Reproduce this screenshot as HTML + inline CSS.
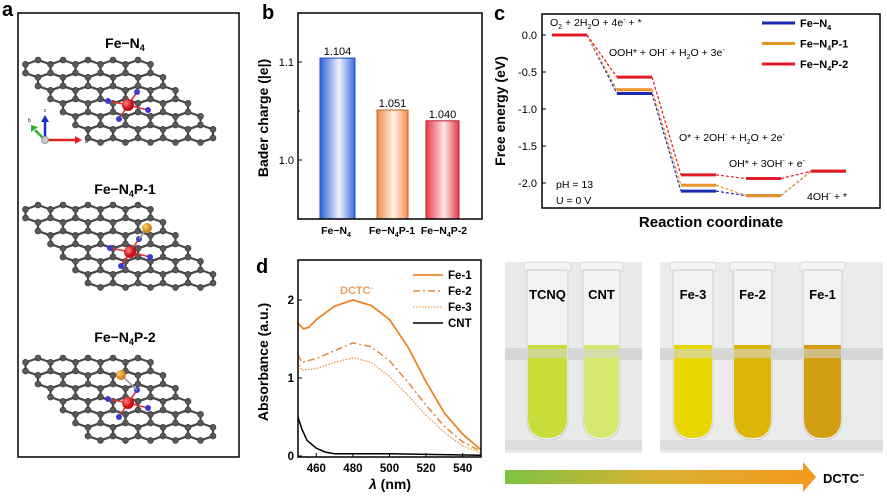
<!DOCTYPE html>
<html><head><meta charset="utf-8"><style>
body{margin:0;background:#fff;width:887px;height:497px;overflow:hidden;font-family:"Liberation Sans",Arial,sans-serif}
svg text{font-family:"Liberation Sans",Arial,sans-serif}
</style></head><body>
<svg id="fig" width="887" height="497" viewBox="0 0 887 497" xmlns="http://www.w3.org/2000/svg">
<defs>
<linearGradient id="gBlue" x1="0" x2="1"><stop offset="0" stop-color="#2f62d6"/><stop offset="0.55" stop-color="#eef4ff"/><stop offset="1" stop-color="#3a6ad8"/></linearGradient>
<linearGradient id="gOr" x1="0" x2="1"><stop offset="0" stop-color="#f08a4a"/><stop offset="0.55" stop-color="#fff1e8"/><stop offset="1" stop-color="#ef8a48"/></linearGradient>
<linearGradient id="gRed" x1="0" x2="1"><stop offset="0" stop-color="#e8384a"/><stop offset="0.55" stop-color="#ffe8ea"/><stop offset="1" stop-color="#e23646"/></linearGradient>
<linearGradient id="gArrow" x1="0" x2="1"><stop offset="0" stop-color="#7dc242"/><stop offset="0.5" stop-color="#d9b030"/><stop offset="1" stop-color="#f29a1e"/></linearGradient>
<radialGradient id="gFe" cx="0.35" cy="0.35"><stop offset="0" stop-color="#ff8080"/><stop offset="1" stop-color="#c80d12"/></radialGradient>
<radialGradient id="gP" cx="0.35" cy="0.35"><stop offset="0" stop-color="#ffd070"/><stop offset="1" stop-color="#d4861c"/></radialGradient>
</defs>

<!-- Panel a -->
<g>
<text x="2" y="16" font-size="20" font-weight="bold">a</text>
<rect x="18" y="13" width="221" height="444" fill="none" stroke="#000" stroke-width="1.5"/>
<text x="125" y="48" font-size="14" font-weight="bold" text-anchor="middle">Fe−N<tspan font-size="9" dy="3">4</tspan></text>
<text x="125" y="194" font-size="14" font-weight="bold" text-anchor="middle">Fe−N<tspan font-size="9" dy="3">4</tspan><tspan dy="-3">P-1</tspan></text>
<text x="125" y="342" font-size="14" font-weight="bold" text-anchor="middle">Fe−N<tspan font-size="9" dy="3">4</tspan><tspan dy="-3">P-2</tspan></text>
<g id="sheets"></g>
<g>
<line x1="45" y1="140" x2="75" y2="140" stroke="#d22" stroke-width="2.5"/><polygon points="75,136 82,140 75,144" fill="#d22"/>
<line x1="45" y1="140" x2="45" y2="122" stroke="#1a2ed0" stroke-width="2.5"/><polygon points="41,122 45,115 49,122" fill="#1a2ed0"/>
<line x1="45" y1="140" x2="35" y2="130" stroke="#2bb030" stroke-width="2.5"/><polygon points="31,132 31,125 38,127" fill="#2bb030"/>
<circle cx="45" cy="140" r="3.5" fill="#ccc" stroke="#999"/>
<text x="85" y="143" font-size="5">a</text><text x="44" y="112" font-size="5">c</text><text x="28" y="122" font-size="5">b</text>
</g>
</g>

<!-- Panel b -->
<g>
<text x="262" y="19" font-size="20" font-weight="bold">b</text>
<g id="bChart"></g>
</g>

<!-- Panel c -->
<g>
<text x="494" y="20" font-size="20" font-weight="bold">c</text>
<g id="cChart"></g>
</g>

<!-- Panel d -->
<g>
<text x="256" y="273" font-size="20" font-weight="bold">d</text>
<g id="dChart"></g>
</g>

<!-- Panel e -->
<g>
<text x="505" y="273" font-size="20" font-weight="bold">e</text>
<rect x="505" y="262" width="137" height="191" fill="#e9eaea"/>
<rect x="660" y="262" width="223" height="191" fill="#ebebeb"/>
<rect x="505" y="348" width="137" height="12" fill="#cfd2d2" opacity="0.8"/>
<rect x="660" y="348" width="223" height="12" fill="#cfd2d2" opacity="0.8"/>
<rect x="505" y="440" width="137" height="10" fill="#dcdede"/>
<rect x="660" y="440" width="223" height="10" fill="#dcdede"/>
<g id="tubes"></g>
<rect x="505" y="470" width="298" height="14" fill="url(#gArrow)"/>
<polygon points="803,462 816,477 803,492" fill="#f29a1e"/>
<text x="823" y="483" font-size="13" font-weight="bold">DCTC<tspan font-size="9" dy="-5">−</tspan></text>
</g>
</svg>
<script>
const NS="http://www.w3.org/2000/svg";
function el(tag,attrs,parent,text){const e=document.createElementNS(NS,tag);for(const k in attrs)e.setAttribute(k,attrs[k]);if(text!==undefined)e.textContent=text;parent.appendChild(e);return e;}

// ---------- Panel b data ----------
const bCats=["Fe−N4","Fe−N4P-1","Fe−N4P-2"];
const bValues=[1.104,1.051,1.040];
const bLabels=["1.104","1.051","1.040"];
const bTicks=[1.0,1.1];

// ---------- Panel c data ----------
const cSeries=["Fe−N4","Fe−N4P-1","Fe−N4P-2"];
const cFeN4=[0,-0.79,-2.11,-2.17,-1.84];
const cFeN4P1=[0,-0.74,-2.03,-2.17,-1.84];
const cFeN4P2=[0,-0.57,-1.89,-1.94,-1.84];
const cTicks=[0,-0.5,-1.0,-1.5,-2.0];
const cTickLabels=["0.0","-0.5","-1.0","-1.5","-2.0"];

// ---------- Panel d data ----------
const dSeries=["Fe-1","Fe-2","Fe-3","CNT"];
const dWave1=[450,453,456,460,470,480,490,500,510,520,530,540,550];
const dFe1=[1.70,1.63,1.65,1.75,1.92,2.00,1.93,1.75,1.40,0.95,0.55,0.28,0.08];
const dWave2=[450,452,460,470,480,490,500,510,520,530,540,550];
const dFe2=[1.30,1.20,1.25,1.35,1.45,1.40,1.22,0.95,0.65,0.38,0.18,0.06];
const dFe3=[1.20,1.10,1.12,1.20,1.26,1.20,1.02,0.78,0.52,0.30,0.13,0.04];
const dWaveC=[450,452,455,460,465,470,480,500,520,550];
const dCNT=[0.50,0.35,0.20,0.10,0.05,0.03,0.03,0.03,0.02,0.01];
const dXTicks=[460,480,500,520,540];
const dYTicks=[0,1,2];

// ---------- Panel a: graphene sheets ----------
(function(){
 const g=document.getElementById("sheets");
 const sheets=[{x0:38,y0:60,fe:[128,105],p:null},{x0:38,y0:205,fe:[130,252],p:[147,228]},{x0:38,y0:358,fe:[128,403],p:[121,375]}];
 const w=25,bv=8.7,rs=13;
 const off=[[0,-bv],[w/2,-bv/2],[w/2,bv/2],[0,bv],[-w/2,bv/2],[-w/2,-bv/2]];
 sheets.forEach((s,si)=>{
  const sg=el("g",{},g);
  
  
  const atoms={};
  for(let r=0;r<6;r++)for(let c=0;c<5;c++){
   const cx=s.x0+c*w+r*w/2, cy=s.y0+r*rs+bv;
   const pts=off.map(o=>[cx+o[0],cy+o[1]]);
   el("polygon",{points:pts.map(p=>p.join(",")).join(" "),fill:"none",stroke:"#4a4a4a","stroke-width":2.2},sg);
   pts.forEach(p=>{atoms[Math.round(p[0])+","+Math.round(p[1])]=p;});
  }
  Object.values(atoms).forEach(p=>el("circle",{cx:p[0],cy:p[1],r:3,fill:"#595959",stroke:"#333","stroke-width":0.6},sg));
  const [fx,fy]=s.fe;
  const ns=[[fx-20,fy-4],[fx+20,fy+5],[fx+9,fy-13],[fx-9,fy+14]];
  ns.forEach(n=>{el("line",{x1:fx,y1:fy,x2:n[0],y2:n[1],stroke:"#d33","stroke-width":1.6},sg);});
  ns.forEach(n=>{el("circle",{cx:n[0],cy:n[1],r:3,fill:"#3a3ad0"},sg);});
  if(s.p){el("line",{x1:s.p[0],y1:s.p[1],x2:ns[2][0],y2:ns[2][1],stroke:"#999","stroke-width":1.5},sg);el("circle",{cx:s.p[0],cy:s.p[1],r:5,fill:"url(#gP)"},sg);}
  el("circle",{cx:fx,cy:fy,r:6,fill:"url(#gFe)"},sg);
 });
})();

// ---------- Panel b chart ----------
(function(){
 const g=document.getElementById("bChart");
 const L=298,R=482,T=13,B=219, y0=1.0,py0=160,pxPer=980;
 const yS=v=>py0-(v-y0)*pxPer;
 const bx=[320,377,426],bw=[35,31,33];
 const fills=["url(#gBlue)","url(#gOr)","url(#gRed)"],strokes=["#1f4fb8","#c8622a","#b82030"];
 bValues.forEach((v,i)=>{
  const r=el("rect",{x:bx[i],y:yS(v),width:bw[i],height:B-yS(v),fill:fills[i],stroke:strokes[i],"stroke-width":1},g);
  
  
  const t=el("text",{x:bx[i]+bw[i]/2,y:yS(v)-3,"font-size":11,"text-anchor":"middle"},g,bLabels[i]);
  
  
 });
 el("rect",{x:L,y:T,width:R-L,height:B-T,fill:"none",stroke:"#000","stroke-width":1.5},g);
 bTicks.forEach(v=>{el("line",{x1:L,y1:yS(v),x2:L+4,y2:yS(v),stroke:"#000"},g);
  const t=el("text",{x:L-4,y:yS(v)+4,"font-size":11,"text-anchor":"end"},g,v.toFixed(1));
  
  });
 [1.05,1.15].forEach(v=>el("line",{x1:L,y1:yS(v),x2:L+2,y2:yS(v),stroke:"#000"},g));
 const cx=[336,392,444];
 bCats.forEach((c,i)=>{const parts=c.split("N4");
  const t=el("text",{x:cx[i],y:234,"font-size":10.5,"font-weight":"bold","text-anchor":"middle"},g);
  
  
  el("tspan",{},t,parts[0]+"N");el("tspan",{"font-size":7,dy:3},t,"4");el("tspan",{dy:-3},t,parts[1]);
 });
 const yt=el("text",{x:0,y:0,"font-size":14,"font-weight":"bold","text-anchor":"middle",transform:"translate(268,118) rotate(-90)"},g,"Bader charge (|e|)");
 
 
})();

// ---------- Panel c chart ----------
(function(){
 const g=document.getElementById("cChart");
 const L=542,R=880,T=14,B=208;
 const yS=v=>35-v*74;
 const stepX=[552,617,681,746,811],stepW=35;
 const data=[cFeN4,cFeN4P1,cFeN4P2],cols=["#1a2ab0","#e8922a","#e01c28"];
 el("rect",{x:L,y:T,width:R-L,height:B-T,fill:"none",stroke:"#000","stroke-width":1.5},g);
 data.forEach((arr,si)=>{
  for(let i=0;i<arr.length-1;i++){
   const l=el("line",{x1:stepX[i]+stepW,y1:yS(arr[i]),x2:stepX[i+1],y2:yS(arr[i+1]),stroke:cols[si],"stroke-width":1.2,"stroke-dasharray":"3,2"},g);
   
   
  }
 });
 data.forEach((arr,si)=>{
  arr.forEach((v,i)=>{
   const l=el("line",{x1:stepX[i],y1:yS(v),x2:stepX[i]+stepW,y2:yS(v),stroke:cols[si],"stroke-width":3},g);
   
   
  });
 });
 cTicks.forEach((v,i)=>{el("line",{x1:L,y1:yS(v),x2:L+4,y2:yS(v),stroke:"#000"},g);
  const t=el("text",{x:L-5,y:yS(v)+4,"font-size":11,"text-anchor":"end"},g,cTickLabels[i]);
  
  });
 const yt=el("text",{x:0,y:0,"font-size":14,"font-weight":"bold","text-anchor":"middle",transform:"translate(505,111) rotate(-90)"},g,"Free energy (eV)");
 
 
 const xt=el("text",{x:711,y:227,"font-size":15,"font-weight":"bold","text-anchor":"middle"},g,"Reaction coordinate");
 
 
 const ann=[[550,26,'O<tspan font-size="7" dy="3">2</tspan><tspan dy="-3"> + 2H</tspan><tspan font-size="7" dy="3">2</tspan><tspan dy="-3">O + 4e</tspan><tspan font-size="7" dy="-4">-</tspan><tspan dy="4"> + *</tspan>'],
  [609,56,'OOH* + OH<tspan font-size="7" dy="-4">-</tspan><tspan dy="4"> + H</tspan><tspan font-size="7" dy="3">2</tspan><tspan dy="-3">O + 3e</tspan><tspan font-size="7" dy="-4">-</tspan>'],
  [679,141,'O* + 2OH<tspan font-size="7" dy="-4">-</tspan><tspan dy="4"> + H</tspan><tspan font-size="7" dy="3">2</tspan><tspan dy="-3">O + 2e</tspan><tspan font-size="7" dy="-4">-</tspan>'],
  [729,167,'OH* + 3OH<tspan font-size="7" dy="-4">-</tspan><tspan dy="4">  + e</tspan><tspan font-size="7" dy="-4">-</tspan>'],
  [807,200,'4OH<tspan font-size="7" dy="-4">-</tspan><tspan dy="4"> + *</tspan>'],
  [556,188,'pH = 13'],[556,204,'U = 0 V']];
 ann.forEach(a=>{const t=el("text",{x:a[0],y:a[1],"font-size":10.5},g);t.innerHTML=a[2];
  
  });
 cSeries.forEach((s,i)=>{const y=23+i*20.5;
  const l=el("line",{x1:762,y1:y,x2:795,y2:y,stroke:cols[i],"stroke-width":3},g);
  
  
  const parts=s.split("N4");
  const t=el("text",{x:800,y:y+4,"font-size":11,"font-weight":"bold"},g);
  
  
  el("tspan",{},t,parts[0]+"N");el("tspan",{"font-size":7,dy:3},t,"4");el("tspan",{dy:-3},t,parts[1]);
 });
})();

// ---------- Panel d chart ----------
(function(){
 const g=document.getElementById("dChart");
 const L=298,R=481,T=260,B=457;
 const xS=w=>L+(w-450)*(R-L)/100;
 const yS=v=>456-v*78;
 const mk=(xs,ys)=>xs.map((x,i)=>(i?"L":"M")+xS(x).toFixed(1)+","+yS(ys[i]).toFixed(1)).join("");
 const specs=[[dWave1,dFe1,"#e8862a","",1.8],[dWave2,dFe2,"#e08a3a","7,3,2,3",1.5],[dWave2,dFe3,"#e69850","1.5,1.5",1.3],[dWaveC,dCNT,"#000","",1.5]];
 specs.forEach((s,i)=>{const p=el("path",{d:mk(s[0],s[1]),fill:"none",stroke:s[2],"stroke-width":s[4],"stroke-dasharray":s[3]||"none"},g);
  
  });
 el("rect",{x:L,y:T,width:R-L,height:B-T,fill:"none",stroke:"#000","stroke-width":1.5},g);
 dXTicks.forEach(v=>{el("line",{x1:xS(v),y1:B,x2:xS(v),y2:B-4,stroke:"#000"},g);
  const t=el("text",{x:xS(v),y:B+15,"font-size":11.5,"font-weight":"bold","text-anchor":"middle"},g,String(v));
  
  });
 dYTicks.forEach(v=>{el("line",{x1:L,y1:yS(v),x2:L+4,y2:yS(v),stroke:"#000"},g);
  const t=el("text",{x:L-4,y:yS(v)+4,"font-size":11.5,"font-weight":"bold","text-anchor":"end"},g,String(v));
  
  });
 const xt=el("text",{x:390,y:489,"font-size":14,"font-weight":"bold","text-anchor":"middle"},g);
 xt.innerHTML='<tspan font-style="italic">λ</tspan> (nm)';
 
 
 const yt=el("text",{x:0,y:0,"font-size":14,"font-weight":"bold","text-anchor":"middle",transform:"translate(268,362) rotate(-90)"},g,"Absorbance (a.u.)");
 
 
 const dc=el("text",{x:340,y:294,"font-size":11,"font-weight":"bold",fill:"#e8a060"},g);
 dc.innerHTML='DCTC<tspan font-size="7" dy="-4">-</tspan>';
 
 
 dSeries.forEach((s,i)=>{const y=275+i*16;
  const l=el("line",{x1:413,y1:y,x2:443,y2:y,stroke:specs[i][2],"stroke-width":specs[i][4],"stroke-dasharray":specs[i][3]||"none"},g);
  
  
  const t=el("text",{x:448,y:y+4,"font-size":11.5,"font-weight":"bold"},g,s);
  
  });
})();

// ---------- Panel e tubes ----------
(function(){
 const g=document.getElementById("tubes");
 const names=["TCNQ","CNT","Fe-3","Fe-2","Fe-1"];
 const xs=[527,583,673,733,803],ws=[41,37,40,39,39];
 const cols=["#c9dc3a","#d8e86c","#e8d600","#dcb606","#d39e12"];
 names.forEach((n,i)=>{
  const x=xs[i],w=ws[i];
  const tg=el("g",{},g);
  
  
  el("rect",{x:x-3,y:262,width:w+6,height:10,rx:3,fill:"#f4f4f4",stroke:"#d8d8d8"},tg);
  el("path",{d:`M${x},270 L${x},418 Q${x},440 ${x+w/2},440 Q${x+w},440 ${x+w},418 L${x+w},270 Z`,fill:"#f1f2f2",stroke:"#d0d0d0"},tg);
  el("path",{d:`M${x+1},345 L${x+1},418 Q${x+1},438 ${x+w/2},438 Q${x+w-1},438 ${x+w-1},418 L${x+w-1},345 Z`,fill:cols[i]},tg);
  el("rect",{x:x-2,y:349,width:w+4,height:9,fill:"#d2d4d0",opacity:0.6},tg);
  const t=el("text",{x:x+w/2,y:299,"font-size":13,"font-weight":"bold","text-anchor":"middle"},tg,n);
  
  
 });
})();
</script>
</body></html>
